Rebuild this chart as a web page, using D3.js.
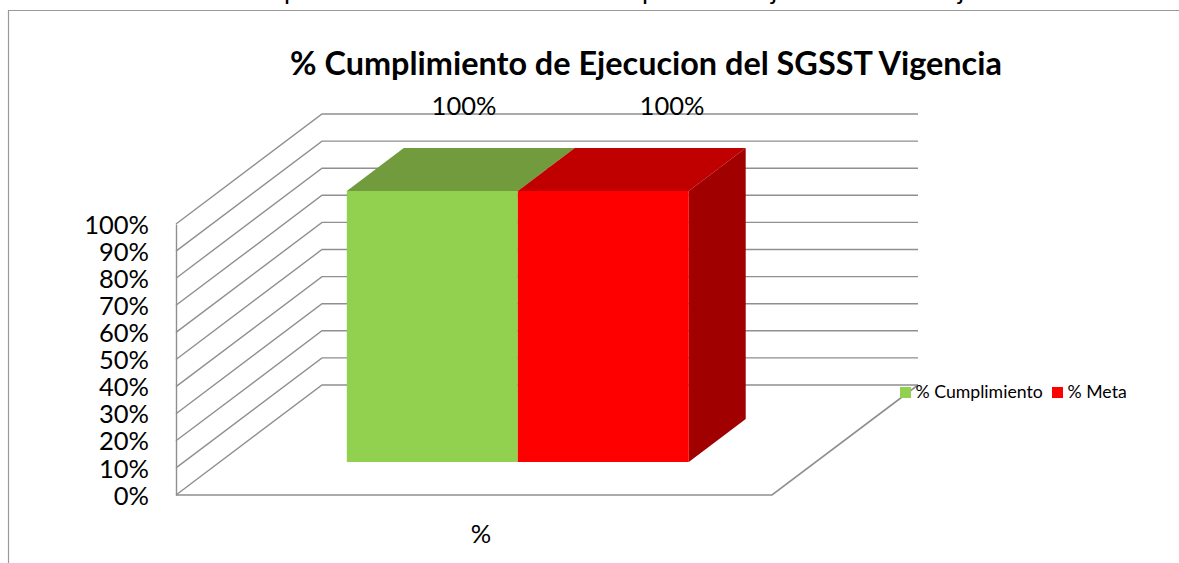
<!DOCTYPE html>
<html>
<head>
<meta charset="utf-8">
<script src="https://cdn.jsdelivr.net/npm/d3@7"></script>
<style>
  html, body { margin: 0; padding: 0; background: #fff; overflow: hidden; }
  text { font-family: Lato, "Open Sans", sans-serif; fill: #000; }
</style>
</head>
<body>
<script>
// chart data
var categories = ["%"];
var seriesNames = ["% Cumplimiento", "% Meta"];
var seriesValues = [100, 100];
var tickValues = [0, 10, 20, 30, 40, 50, 60, 70, 80, 90, 100];
var titleText = "% Cumplimiento de Ejecucion del SGSST Vigencia";
// descenders of the line cut off above the chart
var cutOffLetters = ["p", "p", "j", "j"];

var width = 1179,
    height = 563;

var colors = {
  front: ["#92d050", "#ff0000"],
  top: ["#719b3c", "#c00000"],
  side: ["#74a640", "#a00000"]
};
var gridColor = "#8f8f8f";

var svg = d3.select("body").append("svg")
    .attr("width", width)
    .attr("height", height)
    .style("display", "block");

// scales, the third one is the depth of the 3d box
var x = d3.scaleBand().domain(seriesNames).range([176, 772]).paddingInner(0).paddingOuter(0.743);
var xCat = d3.scaleBand().domain(categories).range([176, 772]);
var y = d3.scaleLinear().domain([0, 100]).range([495, 224]);
var depthX = d3.scaleLinear().domain([0, 1]).range([0, 146]);
var depthY = d3.scaleLinear().domain([0, 1]).range([0, -110]);
var barDepth = [0.3, 0.69];

function project(px, value, d) {
  return [px + depthX(d), y(value) + depthY(d)];
}
var poly = d3.line();

// frame of the picture
svg.append("path")
    .attr("d", "M8.5," + height + "V10.5H" + width)
    .attr("fill", "none")
    .attr("stroke", "#999")
    .attr("stroke-width", 1.2);

// text cut by the top edge
svg.selectAll(".cut")
    .data(cutOffLetters)
    .enter().append("text")
    .attr("class", "cut")
    .attr("x", function(d, i) { return [284, 642, 771, 958][i]; })
    .attr("y", -1)
    .attr("font-size", 26)
    .text(function(d) { return d; });

// wall gridlines
svg.selectAll(".grid")
    .data(tickValues)
    .enter().append("path")
    .attr("class", "grid")
    .attr("d", function(t) {
      return poly([project(176, t, 0), project(176, t, 1), project(772, t, 1)]);
    })
    .attr("fill", "none")
    .attr("stroke", gridColor)
    .attr("stroke-width", 1.4);

// floor, front and right side
svg.append("path")
    .attr("d", poly([project(176, 0, 0), project(772, 0, 0), project(772, 0, 1)]))
    .attr("fill", "none")
    .attr("stroke", gridColor)
    .attr("stroke-width", 1.6);

// value axis
var yAxis = d3.axisLeft(y)
    .tickValues(tickValues)
    .tickFormat(function(d) { return d + "%"; })
    .tickSize(0)
    .tickPadding(27);
var yg = svg.append("g")
    .attr("transform", "translate(176,0)")
    .call(yAxis);
yg.select(".domain").attr("stroke", gridColor).attr("stroke-width", 1.4);
yg.selectAll("text").attr("font-size", 25.5).attr("dy", "0.36em");

// bars
var bars = svg.selectAll(".bar")
    .data(seriesNames)
    .enter().append("g")
    .attr("class", "bar");

bars.append("path")
    .attr("fill", function(d, i) { return colors.top[i]; })
    .attr("d", function(d, i) {
      var x0 = x(d), x1 = x0 + x.bandwidth(), v = seriesValues[i];
      return poly([project(x0, v, barDepth[0]), project(x0, v, barDepth[1]),
                   project(x1, v, barDepth[1]), project(x1, v, barDepth[0])]) + "Z";
    });

bars.filter(function(d, i) { return i === seriesNames.length - 1; })
    .append("path")
    .attr("fill", colors.side[1])
    .attr("d", function(d) {
      var x1 = x(d) + x.bandwidth(), v = seriesValues[1];
      return poly([project(x1, v, barDepth[0]), project(x1, v, barDepth[1]),
                   project(x1, 0, barDepth[1]), project(x1, 0, barDepth[0])]) + "Z";
    });

bars.append("path")
    .attr("fill", function(d, i) { return colors.front[i]; })
    .attr("d", function(d, i) {
      var x0 = x(d), x1 = x0 + x.bandwidth(), v = seriesValues[i];
      return poly([project(x0, v, barDepth[0]), project(x1, v, barDepth[0]),
                   project(x1, 0, barDepth[0]), project(x0, 0, barDepth[0])]) + "Z";
    });

// data labels
var labelX = d3.scalePoint().domain(seriesNames).range([464, 672]);
svg.selectAll(".value")
    .data(seriesNames)
    .enter().append("text")
    .attr("class", "value")
    .attr("x", function(d) { return labelX(d); })
    .attr("y", 114.5)
    .attr("text-anchor", "middle")
    .attr("font-size", 25.5)
    .text(function(d, i) { return seriesValues[i] + "%"; });

// category label
svg.selectAll(".cat")
    .data(categories)
    .enter().append("text")
    .attr("class", "cat")
    .attr("x", function(d) { return xCat(d) + xCat.bandwidth() / 2 + 7; })
    .attr("y", 543)
    .attr("text-anchor", "middle")
    .attr("font-size", 25.5)
    .text(function(d) { return d; });

// title
svg.append("text")
    .attr("x", 646)
    .attr("y", 75)
    .attr("text-anchor", "middle")
    .attr("font-size", 32.4)
    .attr("font-weight", 700)
    .text(titleText);

// legend
var legendX = [900, 1052];
var legend = svg.selectAll(".legend")
    .data(seriesNames)
    .enter().append("g")
    .attr("class", "legend")
    .attr("transform", function(d, i) { return "translate(" + legendX[i] + ",387)"; });
legend.append("rect")
    .attr("width", 11)
    .attr("height", 11)
    .attr("fill", function(d, i) { return colors.front[i]; });
legend.append("text")
    .attr("x", 15.5)
    .attr("y", 11)
    .attr("font-size", 17.7)
    .text(function(d) { return d; });
</script>
</body>
</html>
